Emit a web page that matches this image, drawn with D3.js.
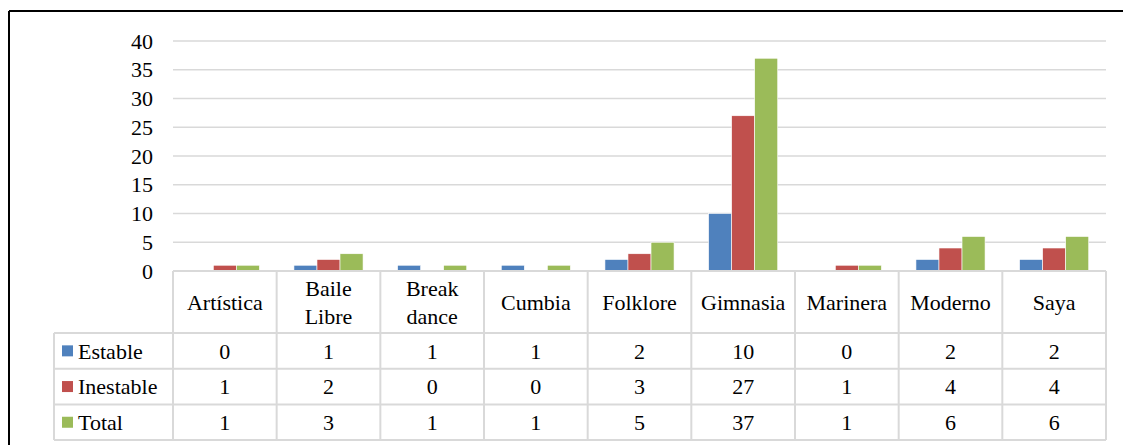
<!DOCTYPE html>
<html>
<head>
<meta charset="utf-8">
<script src="https://cdn.jsdelivr.net/npm/d3@7"></script>
<style>
  body { margin: 0; background: #fff; }
  svg text { font-family: "Times New Roman", "Liberation Serif", "DejaVu Serif", serif; fill: #000; }
</style>
</head>
<body>
<div id="chart"></div>
<script>
// data
var categories = ["Artística", "Baile Libre", "Break dance", "Cumbia", "Folklore", "Gimnasia", "Marinera", "Moderno", "Saya"];
var catLines = [["Artística"], ["Baile", "Libre"], ["Break", "dance"], ["Cumbia"], ["Folklore"], ["Gimnasia"], ["Marinera"], ["Moderno"], ["Saya"]];
var seriesNames = ["Estable", "Inestable", "Total"];
var estable = [0, 1, 1, 1, 2, 10, 0, 2, 2];
var inestable = [1, 2, 0, 0, 3, 27, 1, 4, 4];
var total = [1, 3, 1, 1, 5, 37, 1, 6, 6];
var yTicks = [0, 5, 10, 15, 20, 25, 30, 35, 40];

var series = [estable, inestable, total];
var colors = ["#4F81BD", "#C0504D", "#9BBB59"];

var W = 1123, H = 445;
var plotLeft = 173, plotRight = 1106, plotTop = 41, plotBottom = 271;
var headerBottom = 333, rowH = 35.7;
var tableLeft = 54;
var fs = 22;
var serif = "'Times New Roman', 'Liberation Serif', 'DejaVu Serif', serif";

var svg = d3.select("#chart").append("svg")
    .attr("width", W)
    .attr("height", H);

var x = d3.scaleBand()
    .domain(categories)
    .range([plotLeft, plotRight]);

var x1 = d3.scaleBand()
    .domain(seriesNames)
    .range([0, x.bandwidth()])
    .paddingOuter(0.75)
    .paddingInner(0);

var y = d3.scaleLinear()
    .domain([0, 40])
    .range([plotBottom, plotTop]);

// outer border
svg.append("line").attr("x1", 9).attr("x2", W).attr("y1", 11).attr("y2", 11)
    .attr("stroke", "#000").attr("stroke-width", 2);
svg.append("line").attr("x1", 9).attr("x2", 9).attr("y1", 11).attr("y2", H)
    .attr("stroke", "#000").attr("stroke-width", 2);

// gridlines
svg.append("g")
    .selectAll("line")
    .data(yTicks)
    .enter().append("line")
    .attr("x1", plotLeft).attr("x2", plotRight)
    .attr("y1", function (d) { return y(d); })
    .attr("y2", function (d) { return y(d); })
    .attr("stroke", "#D9D9D9")
    .attr("stroke-width", 1.5);

// y axis labels
var yAxis = svg.append("g")
    .attr("transform", "translate(" + (plotLeft - 20) + ",0)")
    .call(d3.axisLeft(y).tickValues(yTicks).tickSize(0).tickPadding(0));
yAxis.attr("font-family", null).attr("font-size", null);
yAxis.select(".domain").remove();
yAxis.selectAll("text")
    .style("font-family", serif)
    .style("font-size", fs + "px")
    .attr("fill", "#000");

// bars
var groups = svg.append("g")
    .selectAll("g")
    .data(categories)
    .enter().append("g")
    .attr("transform", function (d) { return "translate(" + x(d) + ",0)"; });

groups.selectAll("rect")
    .data(function (d, i) {
        return seriesNames.map(function (s, j) { return {s: s, v: series[j][i], j: j}; });
    })
    .enter().append("rect")
    .filter(function (d) { return d.v > 0; })
    .attr("x", function (d) { return x1(d.s); })
    .attr("width", x1.bandwidth())
    .attr("y", function (d) { return y(d.v); })
    .attr("height", function (d) { return plotBottom - y(d.v); })
    .attr("fill", function (d) { return colors[d.j]; })
    .attr("stroke", "#fff")
    .attr("stroke-width", 0.6);

// data table
var tbl = svg.append("g").style("font-family", serif);
var gridC = "#D9D9D9";
var tableBottom = headerBottom + rowH * 3;

// vertical lines at category boundaries
var bounds = categories.map(function (c) { return x(c); }).concat([plotRight]);
tbl.selectAll("line.v")
    .data(bounds)
    .enter().append("line")
    .attr("x1", function (d) { return d; }).attr("x2", function (d) { return d; })
    .attr("y1", plotBottom).attr("y2", tableBottom)
    .attr("stroke", gridC).attr("stroke-width", 2);

// left edge of legend column
tbl.append("line")
    .attr("x1", tableLeft).attr("x2", tableLeft)
    .attr("y1", headerBottom).attr("y2", tableBottom)
    .attr("stroke", gridC).attr("stroke-width", 2);

// horizontal lines
tbl.append("line")
    .attr("x1", plotLeft).attr("x2", plotRight)
    .attr("y1", plotBottom).attr("y2", plotBottom)
    .attr("stroke", gridC).attr("stroke-width", 2);
[0, 1, 2, 3].forEach(function (k) {
    var yy = headerBottom + k * rowH;
    tbl.append("line")
        .attr("x1", tableLeft).attr("x2", plotRight)
        .attr("y1", yy).attr("y2", yy)
        .attr("stroke", gridC).attr("stroke-width", 2);
});

// header labels
var headerMid = (plotBottom + headerBottom) / 2;
categories.forEach(function (c, i) {
    var lines = catLines[i];
    var t = tbl.append("text")
        .attr("text-anchor", "middle")
        .style("font-size", fs + "px")
        .attr("x", x(c) + x.bandwidth() / 2);
    lines.forEach(function (ln, k) {
        t.append("tspan")
            .attr("x", x(c) + x.bandwidth() / 2)
            .attr("y", headerMid + (k - (lines.length - 1) / 2) * 28)
            .attr("dy", "0.35em")
            .text(ln);
    });
});

// rows
seriesNames.forEach(function (s, j) {
    var cy = headerBottom + rowH * j + rowH / 2;
    tbl.append("rect")
        .attr("x", 62).attr("y", cy - 5.5)
        .attr("width", 11).attr("height", 11)
        .attr("fill", colors[j]);
    tbl.append("text")
        .attr("x", 78).attr("y", cy).attr("dy", "0.35em")
        .style("font-size", fs + "px")
        .text(s);
    categories.forEach(function (c, i) {
        tbl.append("text")
            .attr("x", x(c) + x.bandwidth() / 2)
            .attr("y", cy).attr("dy", "0.35em")
            .attr("text-anchor", "middle")
            .style("font-size", fs + "px")
            .text(series[j][i]);
    });
});
</script>
</body>
</html>
